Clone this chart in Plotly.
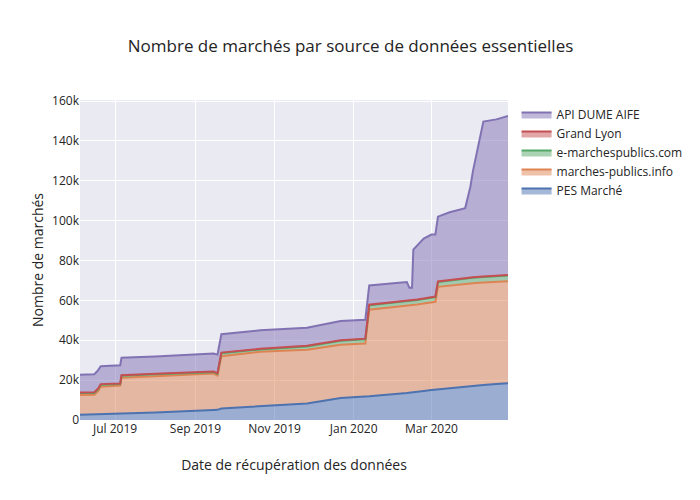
import plotly.graph_objects as go

dates = [
    "2019-06-04", "2019-06-15", "2019-06-18", "2019-06-20", "2019-07-05", "2019-07-06",
    "2019-08-01", "2019-09-15", "2019-09-18", "2019-09-21", "2019-10-21", "2019-11-26",
    "2019-12-22", "2020-01-10", "2020-01-13", "2020-02-11", "2020-02-13", "2020-02-15",
    "2020-02-16", "2020-02-19", "2020-02-24", "2020-03-01", "2020-03-04", "2020-03-06",
    "2020-03-15", "2020-03-27", "2020-03-31", "2020-04-02", "2020-04-10", "2020-04-20",
    "2020-04-29",
]

# cumulative levels (in thousands)
pes_marche = [2.6, 2.8, 2.9, 2.9, 3.1, 3.1, 3.8, 5.0, 5.1, 5.8, 7.0, 8.3, 11.0, 11.8, 11.9,
              13.6, 13.7, 13.8, 13.9, 14.2, 14.6, 15.0, 15.2, 15.4, 16.2, 17.0, 17.2, 17.3,
              17.6, 18.0, 18.4]
top_mpi = [12.5, 12.6, 14.5, 16.7, 17.3, 21.2, 22.0, 23.3, 22.3, 32.0, 34.2, 35.3, 37.8, 38.4,
           55.3, 57.2, 57.3, 57.4, 57.5, 57.9, 58.4, 59.0, 59.3, 66.8, 67.5, 68.3, 68.5, 68.6,
           69.0, 69.3, 69.6]
top_grand_lyon = [13.8, 13.9, 15.8, 18.0, 18.3, 22.5, 23.2, 24.3, 23.5, 33.8, 35.7, 37.2, 40.0,
                  40.8, 57.8, 59.7, 59.8, 60.0, 60.1, 60.5, 61.0, 61.6, 61.9, 69.5, 70.3, 71.3,
                  71.5, 71.6, 72.0, 72.4, 72.8]
grand_lyon = [0.3] * len(dates)
top_total = [22.7, 23.0, 25.0, 27.0, 27.5, 31.2, 31.8, 33.3, 32.8, 43.0, 45.0, 46.3, 49.7,
             50.3, 67.5, 69.2, 66.3, 66.3, 85.5, 87.4, 91.0, 93.0, 93.0, 102.0, 104.2, 106.3,
             117.0, 125.0, 149.7, 150.8, 152.5]

marches_publics_info = [t - p for t, p in zip(top_mpi, pes_marche)]
e_marchespublics = [r - g - m for r, g, m in zip(top_grand_lyon, grand_lyon, top_mpi)]
api_dume = [t - r for t, r in zip(top_total, top_grand_lyon)]

series = [
    ("PES Marché", pes_marche),
    ("marches-publics.info", marches_publics_info),
    ("e-marchespublics.com", e_marchespublics),
    ("Grand Lyon", grand_lyon),
    ("API DUME AIFE", api_dume),
]

fig = go.Figure()
for name, vals in series:
    fig.add_trace(go.Scatter(
        x=dates, y=[v * 1000 for v in vals], name=name,
        mode="lines", stackgroup="one",
    ))

fig.update_layout(
    template="seaborn",
    width=692, height=492,
    margin=dict(l=72, t=92, b=80),
    title=dict(text="Nombre de marchés par source de données essentielles",
               x=0.495, xanchor="center", y=1 - 38 / 492, yanchor="middle"),
    xaxis=dict(title=dict(text="Date de récupération des données", standoff=24),
               automargin=False),
    yaxis=dict(title=dict(text="Nombre de marchés", standoff=5), automargin=False),
)
fig.write_html("out.html")
